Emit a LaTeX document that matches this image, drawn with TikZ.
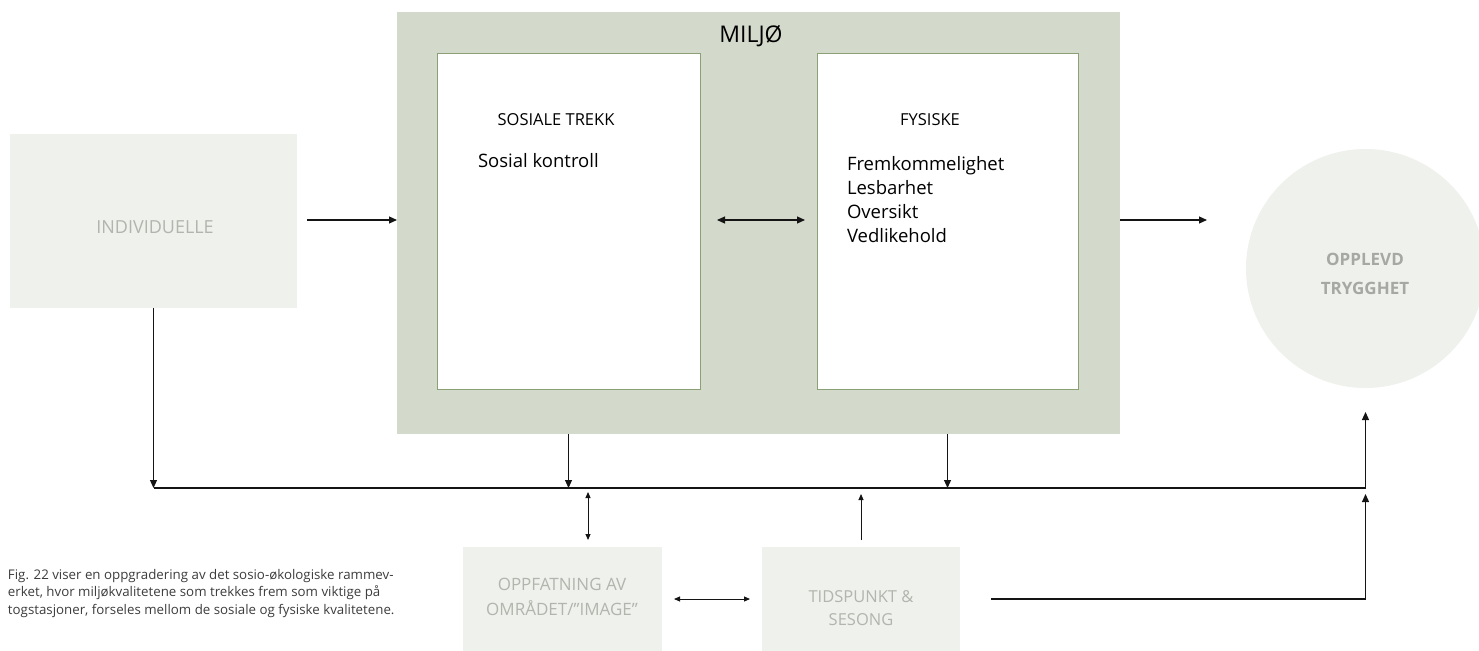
\documentclass[tikz,border=0pt]{standalone}
\usepackage{fontspec}
\setmainfont{Open Sans}
\usetikzlibrary{arrows.meta}

\definecolor{envfill}{RGB}{211,217,203}
\definecolor{envline}{RGB}{140,160,118}
\definecolor{softfill}{RGB}{239,241,236}
\definecolor{softtext}{RGB}{178,180,174}
\definecolor{hometext}{RGB}{166,168,163}
\definecolor{ink}{RGB}{20,20,20}
\definecolor{captext}{RGB}{60,60,60}

\begin{document}
\begin{tikzpicture}[x=1pt,y=-1pt,
  box/.style={rectangle, inner sep=0pt, outer sep=0pt},
  softbox/.style={box, fill=softfill},
  envbox/.style={box, fill=envfill},
  innerbox/.style={box, fill=white, draw=envline, line width=0.9pt},
  conn/.style={draw=ink, line width=1.1pt},
  arr/.style={conn, -{Triangle[length=8pt,width=7pt]}},
  arrsmall/.style={conn, line width=0.9pt, -{Triangle[length=6pt,width=5pt]}},
  dbl/.style={conn, {Triangle[length=8pt,width=7pt]}-{Triangle[length=8pt,width=7pt]}},
  dblsmall/.style={conn, line width=0.9pt, {Triangle[length=6pt,width=5pt]}-{Triangle[length=6pt,width=5pt]}},
  txtc/.style={inner sep=0pt, outer sep=0pt, anchor=base},
  txtl/.style={inner sep=0pt, outer sep=0pt, anchor=base west},
  titletext/.style={txtc, font=\fontsize{23}{27}\selectfont},
  headtext/.style={txtc, font=\fontsize{16.5}{20}\selectfont},
  itemtext/.style={txtl, font=\fontsize{18.5}{22}\selectfont},
  softtextstyle/.style={txtc, text=softtext, font=\fontsize{16.5}{19}\selectfont},
  safetext/.style={txtc, text=hometext, font=\fontsize{17}{20}\selectfont\bfseries},
  captionline/.style={txtl, text=captext, font=\fontsize{13.3}{16}\selectfont}
]
\useasboundingbox (0,0) rectangle (1479,650);
\clip (0,0) rectangle (1479,650);

% boxes
\node[softbox, minimum width=287pt, minimum height=174pt] (indiv) at (153.5,221) {};
\node[envbox, minimum width=723pt, minimum height=422pt] (env) at (758.5,223) {};
\node[innerbox, minimum width=263pt, minimum height=336pt] (social) at (568.5,221) {};
\node[innerbox, minimum width=261pt, minimum height=336pt] (physical) at (947.5,221) {};
\node[softbox, minimum width=199pt, minimum height=104pt] (image) at (562.5,599) {};
\node[softbox, minimum width=198pt, minimum height=104pt] (season) at (861,599) {};
\node[circle, fill=softfill, minimum size=239pt, inner sep=0pt, outer sep=0pt] (safety) at (1365.5,268.5) {};

% labels
\node[titletext] (envT) at (751,43) {MILJØ};
\node[headtext] (socialT) at (556,125) {SOSIALE TREKK};
\node[itemtext] (socialA) at (478,167) {Sosial kontroll};
\node[headtext] (physT) at (930,125) {FYSISKE};
\node[itemtext] (physA) at (847,170) {Fremkommelighet};
\node[itemtext] (physB) at (847,194) {Lesbarhet};
\node[itemtext] (physC) at (847,218) {Oversikt};
\node[itemtext] (physD) at (847,242) {Vedlikehold};
\node[softtextstyle, font=\fontsize{18}{21}\selectfont] (indivT) at (155,233) {INDIVIDUELLE};
\node[softtextstyle, font=\fontsize{17}{20}\selectfont] (imageA) at (562,590) {OPPFATNING AV};
\node[softtextstyle, font=\fontsize{17}{20}\selectfont] (imageB) at (562,615) {OMRÅDET/”IMAGE”};
\node[softtextstyle] (seasonA) at (861,602) {TIDSPUNKT \&};
\node[softtextstyle] (seasonB) at (861,625) {SESONG};
\node[safetext] (safetyA) at (1365,265) {OPPLEVD};
\node[safetext] (safetyB) at (1365,294) {TRYGGHET};
\node[captionline] (capA) at (8,579) {Fig. 22 viser en oppgradering av det sosio-økologiske rammev-};
\node[captionline] (capB) at (8,596.5) {erket, hvor miljøkvalitetene som trekkes frem som viktige på};
\node[captionline] (capC) at (8,614) {togstasjoner, forseles mellom de sosiale og fysiske kvalitetene.};

% collecting line
\coordinate (busL) at (indiv.south |- 0,488);
\coordinate (busR) at (safety.south |- 0,488);

% connectors
\draw[arr, shorten <=10pt] ([yshift=1pt]indiv.east) -- ([yshift=1pt]indiv.east -| env.west);
\draw[dbl, shorten <=17pt, shorten >=12pt] ([yshift=1pt]social.east) -- ([yshift=1pt]physical.west);
\draw[arr, shorten >=39pt] ([yshift=3pt]env.east) -- ([yshift=3pt]env.east -| safety.west);
\draw[arr] (indiv.south) -- (busL);
\draw[conn] (busL) -- (busR);
\draw[arr] (social.south |- env.south) -- (social.south |- busL);
\draw[arr] (physical.south |- env.south) -- (physical.south |- busL);
\draw[arr, shorten >=24pt] (busR) -- (safety.south);
\draw[dblsmall, shorten <=7pt, shorten >=4pt] ([xshift=25.5pt]image.north) -- ([xshift=25.5pt]image.north |- busL);
\draw[arrsmall, shorten <=7pt, shorten >=6pt] (season.north) -- (season.north |- busL);
\draw[dblsmall, shorten <=12pt, shorten >=12pt] (image.east) -- (season.west);
\draw[arr, shorten <=31pt, shorten >=6pt] (season.east) -- (season.east -| busR) -- (busR);
\end{tikzpicture}
\end{document}
